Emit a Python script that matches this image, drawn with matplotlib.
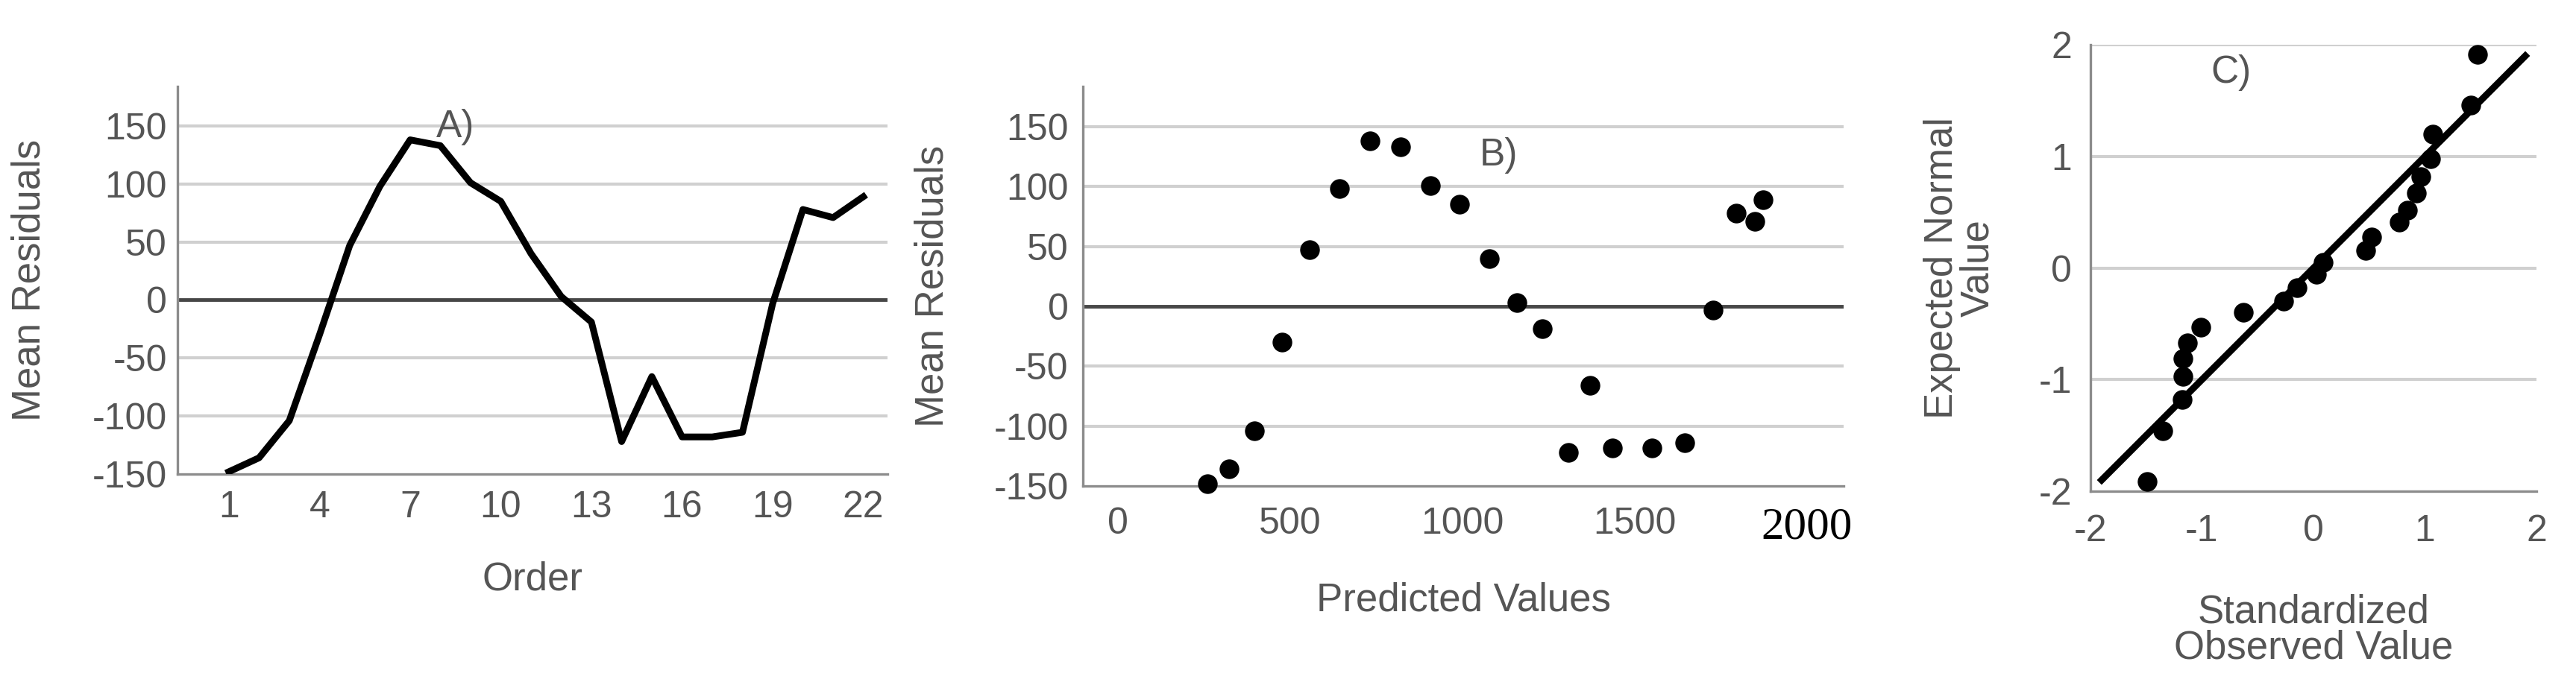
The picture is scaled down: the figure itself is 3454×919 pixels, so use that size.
import numpy as np
import matplotlib.pyplot as plt

# panel A / B data (order 1..22)
order = list(range(1, 23))
mean_resid = [-148, -136, -104, -30, 47, 98, 138, 133, 101, 85, 40, 3,
              -19, -122, -66, -118, -118, -114, -3, 78, 71, 89]
predicted = [259, 323, 395, 475, 557, 643, 732, 821, 907, 991, 1077, 1157,
             1232, 1307, 1371, 1436, 1550, 1645, 1727, 1795, 1848, 1873]

# panel C data (normal P-P style)
std_observed = [-1.49, -1.35, -1.18, -1.17, -1.17, -1.13, -1.01, -0.63, -0.27, -0.15, 0.03,
                0.09, 0.47, 0.52, 0.77, 0.84, 0.92, 0.96, 1.05, 1.07, 1.41, 1.47]
expected_normal = [-1.91, -1.46, -1.18, -0.97, -0.81, -0.67, -0.53, -0.40, -0.30, -0.18, -0.06,
                   0.05, 0.16, 0.28, 0.41, 0.52, 0.67, 0.82, 0.98, 1.20, 1.46, 1.91]
ref_line = [-1.9, 1.9]

resid_ticks = [-150, -100, -50, 0, 50, 100, 150]
order_ticks = [1, 4, 7, 10, 13, 16, 19, 22]
pred_ticks = [0, 500, 1000, 1500, 2000]
c_ticks = [-2, -1, 0, 1, 2]

plt.rcParams['font.family'] = ['Liberation Sans', 'DejaVu Sans']
plt.rcParams['axes.unicode_minus'] = False

TXT = '#555555'
GRID = '#d0d0d0'
SPINE = '#8c8c8c'
ZERO = '#474747'

fig = plt.figure(figsize=(34.54, 9.19), dpi=100)

W, H = 3454.0, 919.0


def make_ax(left, right, top, bottom):
    return fig.add_axes([left / W, 1 - bottom / H, (right - left) / W, (bottom - top) / H])


def style(ax, grid_vals, xpad, ypad):
    for s in ['top', 'right']:
        ax.spines[s].set_visible(False)
    for s in ['left', 'bottom']:
        ax.spines[s].set_color(SPINE)
        ax.spines[s].set_linewidth(2.4)
    ax.tick_params(length=0, labelsize=36, labelcolor=TXT)
    ax.tick_params(axis='x', pad=xpad)
    ax.tick_params(axis='y', pad=ypad)
    for g in grid_vals:
        ax.axhline(g, color=GRID, lw=3, zorder=0)


def labels(ax, xlab, ylab, xy_x, xy_y):
    # label centres given in axes fraction
    ax.set_xlabel(xlab, fontsize=38, color=TXT, va='center', linespacing=0.95)
    ax.xaxis.set_label_coords(0.5, xy_x)
    ax.set_ylabel(ylab, fontsize=38, color=TXT, va='center', linespacing=0.95)
    ax.yaxis.set_label_coords(xy_y, 0.5)


# ---- A) ----
ax1 = make_ax(238, 1190, 116, 636)
style(ax1, [-100, -50, 50, 100, 150], 16, 10)
ax1.axhline(0, color=ZERO, lw=3.5, zorder=1)
ax1.plot(order, mean_resid, color='black', lw=6.5, zorder=3)
ax1.set_xlim(-0.7, 22.8)
ax1.set_ylim(-150, 184)
ax1.set_xticks(order_ticks)
ax1.set_yticks(resid_ticks)
labels(ax1, 'Order', 'Mean Residuals', -0.273, -0.208)
ax1.text(8.5, 149, 'A)', fontsize=37, color=TXT, ha='center', va='center')

# ---- B) ----
ax2 = make_ax(1452, 2472, 116, 652)
style(ax2, [-100, -50, 50, 100, 150], 20, 14)
ax2.axhline(0, color=ZERO, lw=3.5, zorder=1)
ax2.plot(predicted, mean_resid, 'o', color='black', ms=18, zorder=3, clip_on=False)
ax2.set_xlim(-102, 2106)
ax2.set_ylim(-150, 183.5)
ax2.set_xticks(pred_ticks)
ax2.set_yticks(resid_ticks)
lbl = ax2.get_xticklabels()
lbl[-1].set_fontfamily('Liberation Serif')
lbl[-1].set_color('black')
lbl[-1].set_fontsize(44)
labels(ax2, 'Predicted Values', 'Mean Residuals', -0.287, -0.198)
ax2.text(1104, 126, 'B)', fontsize=37, color=TXT, ha='center', va='center')

# ---- C) ----
ax3 = make_ax(2803, 3401, 60, 659)
style(ax3, [-1, 0, 1, 2], 22, 18)
ax3.plot(ref_line, ref_line, color='black', lw=6.5, zorder=2)
ax3.plot(std_observed, expected_normal, 'o', color='black', ms=18, zorder=3, clip_on=False)
ax3.set_xlim(-2, 2)
ax3.set_ylim(-2, 2)
ax3.set_xticks(c_ticks)
ax3.set_yticks(c_ticks)
labels(ax3, 'Standardized\nObserved Value', 'Expected Normal\nValue', -0.312, -0.293)
ax3.text(-0.74, 1.75, 'C)', fontsize=37, color=TXT, ha='center', va='center')

fig.savefig('out.png', dpi=100)
